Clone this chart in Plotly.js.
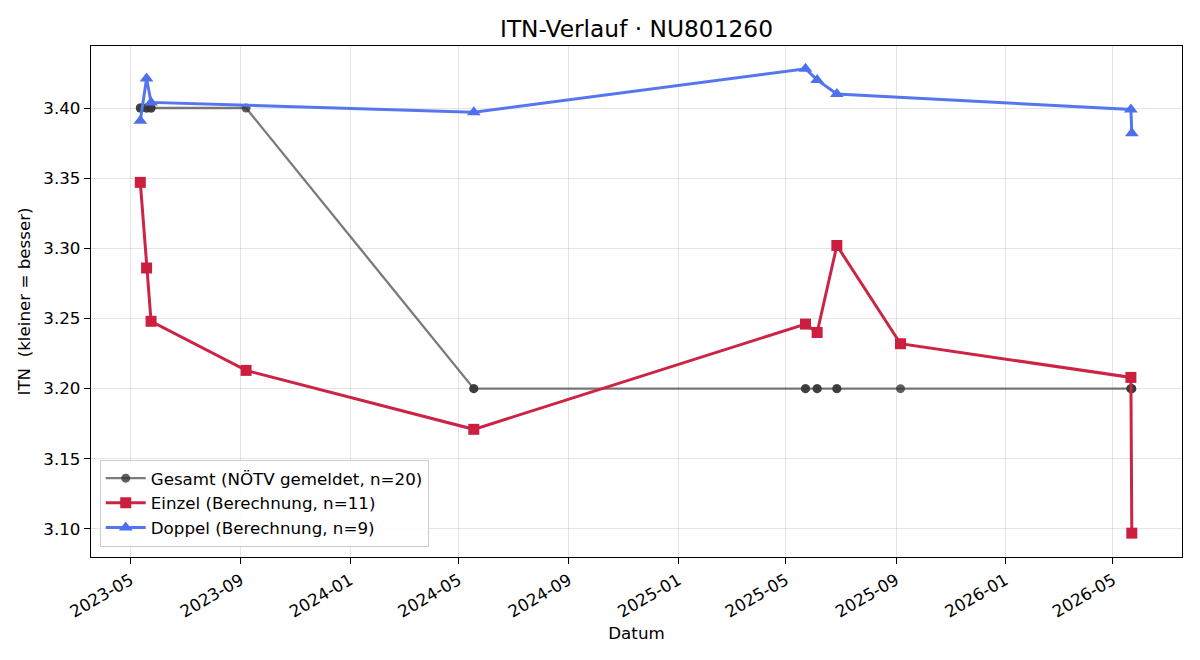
<!DOCTYPE html>
<html>
<head>
<meta charset="utf-8">
<script src="https://cdn.plot.ly/plotly-3.0.1.min.js"></script>
<style>html,body{margin:0;padding:0;background:#fff;}#chart{width:1200px;height:660px;}</style>
</head>
<body>
<div id="chart"></div>
<script>
// Einzel (singles) calculated ITN
const einzelDates = ["2023-05-12","2023-05-19","2023-05-24","2023-09-07","2024-05-18","2025-05-23","2025-06-05","2025-06-27","2025-09-06","2026-05-21","2026-05-22"];
const einzelValues = [3.347,3.286,3.248,3.213,3.171,3.246,3.240,3.302,3.232,3.208,3.097];

// Doppel (doubles) calculated ITN
const doppelDates = ["2023-05-12","2023-05-19","2023-05-24","2024-05-18","2025-05-23","2025-06-05","2025-06-27","2026-05-21","2026-05-22"];
const doppelValues = [3.391,3.421,3.404,3.397,3.428,3.420,3.410,3.399,3.382];

// Gesamt (reported by NÖTV)
const gesamtDates = ["2023-05-12","2023-05-12","2023-05-19","2023-05-19","2023-05-24","2023-05-24","2023-09-07","2024-05-18","2024-05-18","2025-05-23","2025-05-23","2025-06-05","2025-06-05","2025-06-27","2025-06-27","2025-09-06","2026-05-21","2026-05-21","2026-05-22","2026-05-22"];
const gesamtValues = [3.40,3.40,3.40,3.40,3.40,3.40,3.40,3.20,3.20,3.20,3.20,3.20,3.20,3.20,3.20,3.20,3.20,3.20,3.20,3.20];

const titleText = "ITN-Verlauf · NU801260";
const xTitle = "Datum";
const yTitle = "ITN  (kleiner = besser)";
const names = ["Gesamt (NÖTV gemeldet, n=20)", "Einzel (Berechnung, n=11)", "Doppel (Berechnung, n=9)"];

const font = "DejaVu Sans, sans-serif";

const traces = [
  {
    x: gesamtDates, y: gesamtValues, name: names[0], type: "scatter", mode: "lines+markers",
    line: {color: "rgba(70,70,70,0.72)", width: 2.3},
    marker: {symbol: "circle", size: 9, color: "rgba(55,55,55,0.8)"}
  },
  {
    x: einzelDates, y: einzelValues, name: names[1], type: "scatter", mode: "lines+markers",
    line: {color: "#cc2444", width: 3},
    marker: {symbol: "square", size: 11, color: "#cc1f40"}
  },
  {
    x: doppelDates, y: doppelValues, name: names[2], type: "scatter", mode: "lines+markers",
    line: {color: "#5576ef", width: 3},
    marker: {symbol: "triangle-up", size: 12, color: "#4f70ee"}
  }
];

const layout = {
  width: 1200, height: 660,
  paper_bgcolor: "#fff", plot_bgcolor: "#fff",
  margin: {l: 91, r: 18, t: 46, b: 103},
  font: {family: font, size: 16.7, color: "#000"},
  title: {text: titleText, xref: "paper", x: 0.5, xanchor: "center", yref: "container", y: 0.957, yanchor: "middle", font: {family: font, size: 23.3, color: "#000"}},
  xaxis: {
    type: "date",
    range: ["2023-03-18", "2026-07-17"],
    tick0: "2023-01-01", dtick: "M4", tickformat: "%Y-%m",
    tickangle: -30,
    ticks: "outside", ticklen: 6, tickcolor: "#000",
    showgrid: true, gridcolor: "rgba(0,0,0,0.1)", gridwidth: 1,
    showline: true, linecolor: "#000", linewidth: 1.2, mirror: true,
    zeroline: false,
    tickfont: {family: font, size: 16.7},
    title: {text: xTitle, font: {family: font, size: 16.7}, standoff: 6}
  },
  yaxis: {
    range: [3.080, 3.4442],
    tick0: 3.0, dtick: 0.05, tickformat: ".2f",
    ticks: "outside", ticklen: 6, tickcolor: "#000",
    showgrid: true, gridcolor: "rgba(0,0,0,0.1)", gridwidth: 1,
    showline: true, linecolor: "#000", linewidth: 1.2, mirror: true,
    zeroline: false,
    tickfont: {family: font, size: 16.7},
    title: {text: yTitle, font: {family: font, size: 16.7}, standoff: 8}
  },
  showlegend: true,
  legend: {
    x: 0.008, y: 0.02, xanchor: "left", yanchor: "bottom",
    bgcolor: "rgba(255,255,255,0.85)", bordercolor: "#cccccc", borderwidth: 1,
    font: {family: font, size: 16.7}, tracegroupgap: 0, itemwidth: 40
  }
};

Plotly.newPlot("chart", traces, layout, {displayModeBar: false, staticPlot: true});
</script>
</body>
</html>
